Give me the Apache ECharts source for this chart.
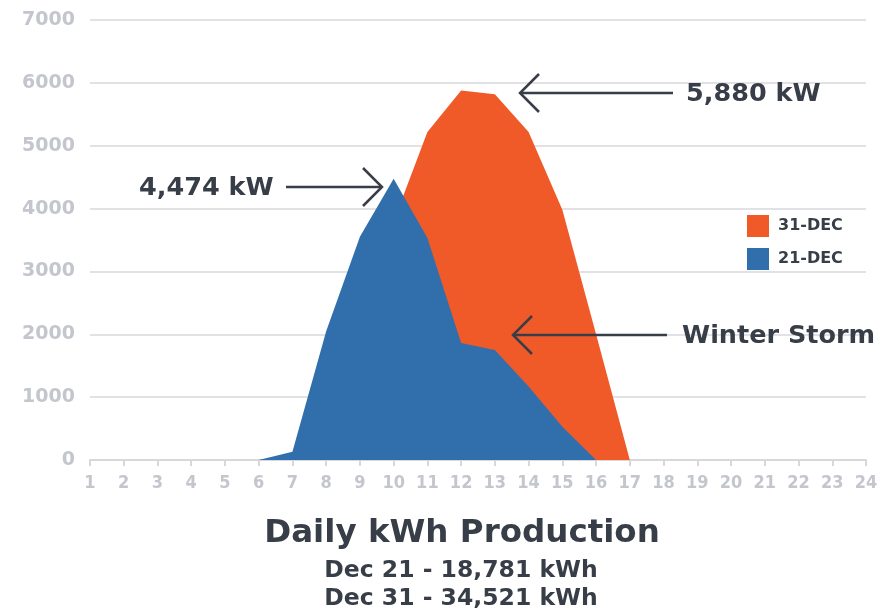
<!DOCTYPE html>
<html>
<head>
<meta charset="utf-8">
<script src="https://cdn.jsdelivr.net/npm/echarts@6/dist/echarts.min.js"></script>
<style>
  html, body { margin: 0; padding: 0; background: #ffffff; }
  #chart { width: 884px; height: 614px; }
</style>
</head>
<body>
<div id="chart"></div>
<script>
// Hourly solar output (kW), hours 1..24
const hours = ['1','2','3','4','5','6','7','8','9','10','11','12','13','14','15','16','17','18','19','20','21','22','23','24'];
const dec31 = [0, 0, 0, 0, 0, 0, 80, 1300, 2700, 3800, 5220, 5880, 5820, 5220, 3980, 2000, 0, 0, 0, 0, 0, 0, 0, 0];
const dec21 = [0, 0, 0, 0, 0, 0, 130, 2050, 3550, 4474, 3530, 1860, 1750, 1170, 530, 0, 0, 0, 0, 0, 0, 0, 0, 0];
const seriesNames = ['31-DEC', '21-DEC'];
const yTicks = { min: 0, max: 7000, step: 1000 };

const titleText = 'Daily kWh Production';
const summaryLines = ['Dec 21 - 18,781 kWh', 'Dec 31 - 34,521 kWh'];
const callouts = ['4,474 kW', '5,880 kW', 'Winter Storm'];

const ORANGE = '#F05A28';
const BLUE = '#306FAB';
const INK = '#383e48';
const AXIS_TEXT = '#c3c6cd';
const FONT = '"DejaVu Sans", sans-serif';

const chart = echarts.init(document.getElementById('chart'), null, { renderer: 'canvas' });

// Arrow: horizontal shaft with an open chevron head pointing left or right
function arrow(x1, x2, y, headLeft) {
  const tip = headLeft ? x1 : x2;
  const back = headLeft ? tip + 19 : tip - 19;
  return [
    { type: 'line', shape: { x1: x1, y1: y, x2: x2, y2: y },
      style: { stroke: INK, lineWidth: 2.5 }, z: 20 },
    { type: 'polyline', shape: { points: [[back, y - 19], [tip, y], [back, y + 19]] },
      style: { stroke: INK, lineWidth: 2.5, fill: null }, z: 20 }
  ];
}

function label(text, x, y, size, align) {
  return { type: 'text', x: x, y: y, z: 20,
    style: { text: text, fill: INK, font: 'bold ' + size + 'px ' + FONT,
      textAlign: align || 'left', textVerticalAlign: 'middle' } };
}

chart.setOption({
  animation: false,
  backgroundColor: '#ffffff',
  grid: { left: 90, right: 18, top: 20, bottom: 154 },
  legend: {
    data: seriesNames,
    orient: 'vertical',
    left: 742, top: 210,
    icon: 'rect',
    itemWidth: 22, itemHeight: 22, itemGap: 11,
    textStyle: { color: INK, fontFamily: FONT, fontWeight: 'bold', fontSize: 16, padding: [0, 0, 0, 4] }
  },
  xAxis: {
    type: 'category',
    data: hours,
    boundaryGap: false,
    axisLine: { lineStyle: { color: '#d8d8db', width: 2 } },
    axisTick: { show: true, length: 6, lineStyle: { color: '#d8d8db', width: 2 } },
    axisLabel: { color: AXIS_TEXT, fontFamily: '"DejaVu Sans Condensed", sans-serif', fontWeight: 'bold', fontSize: 18, margin: 14, interval: 0 },
    splitLine: { show: false }
  },
  yAxis: {
    type: 'value',
    min: yTicks.min, max: yTicks.max, interval: yTicks.step,
    axisLine: { show: false },
    axisTick: { show: false },
    axisLabel: { color: AXIS_TEXT, fontFamily: FONT, fontWeight: 'bold', fontSize: 19, margin: 15,
      formatter: function (v) { return String(v); } },
    splitLine: { lineStyle: { color: '#e2e2e6', width: 2 } }
  },
  series: [
    {
      name: seriesNames[0], type: 'line', data: dec31,
      showSymbol: false, smooth: false,
      itemStyle: { color: ORANGE },
      lineStyle: { width: 0, color: ORANGE },
      areaStyle: { color: ORANGE, opacity: 1 },
      z: 2
    },
    {
      name: seriesNames[1], type: 'line', data: dec21,
      showSymbol: false, smooth: false,
      itemStyle: { color: BLUE },
      lineStyle: { width: 0, color: BLUE },
      areaStyle: { color: BLUE, opacity: 1 },
      z: 3
    }
  ],
  graphic: [
    // peak and storm callouts
    label(callouts[0], 139, 188, 25.5),
    ...arrow(286, 382, 187, false),
    label(callouts[1], 686, 94, 25.5),
    ...arrow(520, 673, 93, true),
    label(callouts[2], 682, 336, 25.5),
    ...arrow(513, 667, 335, true),
    // production summary
    label(titleText, 462, 534, 32.5, 'center'),
    label(summaryLines[0], 461, 571, 23.5, 'center'),
    label(summaryLines[1], 461, 599, 23.5, 'center')
  ]
});
</script>
</body>
</html>
